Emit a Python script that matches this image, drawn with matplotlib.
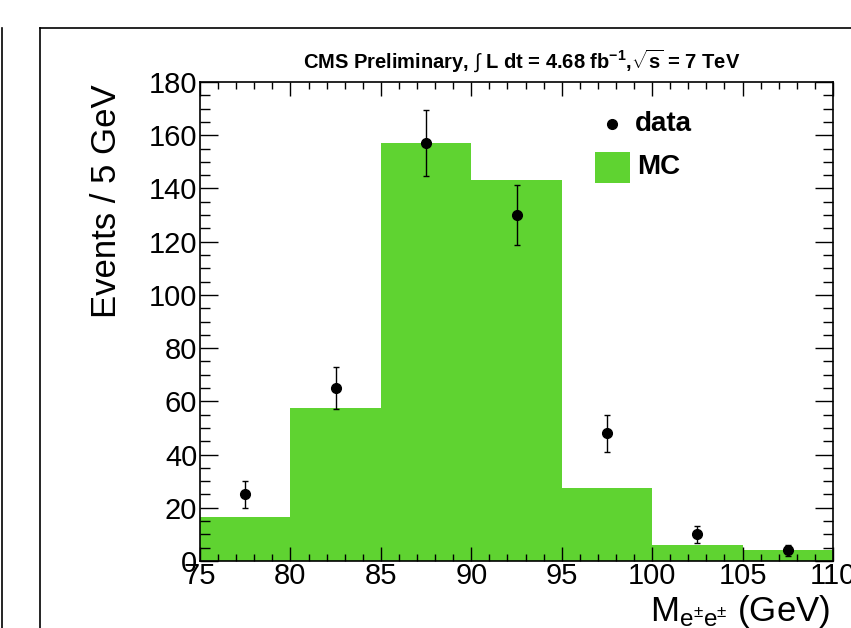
import numpy as np
import matplotlib.pyplot as plt
from matplotlib.lines import Line2D
from matplotlib.patches import Rectangle
from matplotlib.ticker import MultipleLocator

plt.rcParams['font.family'] = ['Liberation Sans', 'DejaVu Sans']
plt.rcParams['mathtext.fontset'] = 'custom'
plt.rcParams['mathtext.rm'] = 'Liberation Sans'
plt.rcParams['mathtext.it'] = 'Liberation Sans:italic'
plt.rcParams['mathtext.bf'] = 'Liberation Sans:bold'

# MC histogram (5 GeV bins)
bin_edges = [75, 80, 85, 90, 95, 100, 105, 110]
mc_counts = [16.5, 57.5, 157, 143, 27.5, 6, 4]
# data points
data_x = [77.5, 82.5, 87.5, 92.5, 97.5, 102.5, 107.5]
data_y = [25, 65, 157, 130, 48, 10, 4]
data_err = [5, 8, 12.5, 11.4, 6.9, 3.2, 2]

green = '#5fd331'
W, H = 851, 628
fig = plt.figure(figsize=(W / 100, H / 100), dpi=100)

# page frames around the plot
fig.add_artist(Line2D([2 / W, 2 / W], [0, 1 - 28 / H], color='black', lw=1.2))
fig.add_artist(Line2D([40 / W, 40 / W], [0, 1 - 28 / H], color='black', lw=1.2))
fig.add_artist(Line2D([40 / W, 1], [1 - 28 / H, 1 - 28 / H], color='black', lw=1.2))

ax = fig.add_axes([200 / W, 1 - 561 / H, 633 / W, 479 / H])
ax.stairs(mc_counts, bin_edges, fill=True, color=green, lw=0)
ax.errorbar(data_x, data_y, yerr=data_err, fmt='o', color='black', ms=7,
            elinewidth=1, capsize=2.5, capthick=1)

ax.set_xlim(75, 110)
ax.set_ylim(0, 180)
ax.xaxis.set_major_locator(MultipleLocator(5))
ax.xaxis.set_minor_locator(MultipleLocator(1))
ax.yaxis.set_major_locator(MultipleLocator(20))
ax.yaxis.set_minor_locator(MultipleLocator(5))
ax.tick_params(which='both', direction='in', top=True, right=True, width=1)
ax.tick_params(axis='x', which='major', length=10, labelsize=21, pad=1)
ax.tick_params(axis='x', which='minor', length=5)
ax.tick_params(axis='y', which='major', length=13, labelsize=21, pad=2)
ax.tick_params(axis='y', which='minor', length=7)
for s in ax.spines.values():
    s.set_linewidth(1.2)

fig.text(106 / W, 1 - 84 / H, 'Events / 5 GeV', rotation=90,
         ha='center', va='top', fontsize=25)

fig.text(522 / W, 1 - 61 / H,
         r'CMS Preliminary, $\int$ L dt = 4.68 fb$^{\mathbf{-1}}$,$\sqrt{\mathbf{s}}$ = 7 TeV',
         ha='center', va='center', fontsize=14.5, fontweight='bold')

fig.text(830 / W, 1 - 611 / H, r'M$_{\mathrm{e^{\pm}e^{\pm}}}$ (GeV)',
         ha='right', va='center', fontsize=25)

# legend
ax.plot([612 / W], [1 - 124 / H], 'o', color='black', ms=7, transform=fig.transFigure, clip_on=False)
fig.text(635 / W, 1 - 124 / H, 'data', ha='left', va='center', fontsize=20, fontweight='bold')
fig.add_artist(Rectangle((595 / W, 1 - 183 / H), 35 / W, 31 / H, color=green, lw=0))
fig.text(637 / W, 1 - 167 / H, 'MC', ha='left', va='center', fontsize=20, fontweight='bold')

fig.savefig('out.png', dpi=100)
